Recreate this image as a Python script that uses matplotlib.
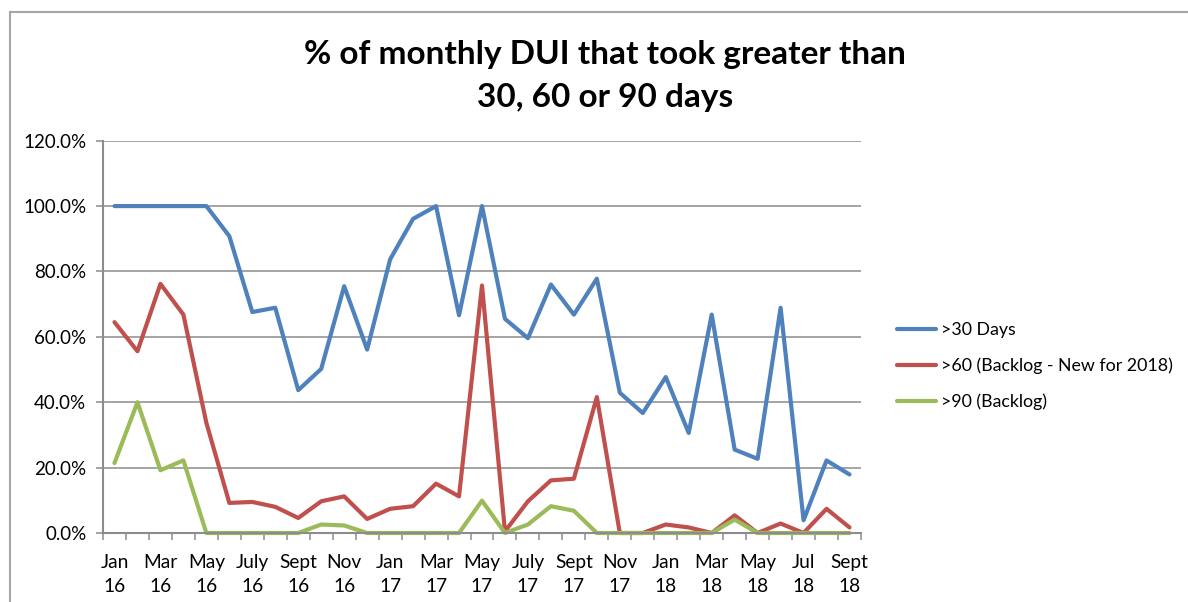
import matplotlib
matplotlib.use("Agg")
import matplotlib.pyplot as plt
from matplotlib.lines import Line2D
from matplotlib.ticker import FuncFormatter, FixedLocator

plt.rcParams['font.family'] = ['Lato', 'DejaVu Sans']

# months Jan 16 .. Sept 18
months = ['Jan 16', 'Feb 16', 'Mar 16', 'Apr 16', 'May 16', 'Jun 16', 'July 16', 'Aug 16',
          'Sept 16', 'Oct 16', 'Nov 16', 'Dec 16', 'Jan 17', 'Feb 17', 'Mar 17', 'Apr 17',
          'May 17', 'Jun 17', 'July 17', 'Aug 17', 'Sept 17', 'Oct 17', 'Nov 17', 'Dec 17',
          'Jan 18', 'Feb 18', 'Mar 18', 'Apr 18', 'May 18', 'Jun 18', 'Jul 18', 'Aug 18',
          'Sept 18']

over30 = [1.000, 1.000, 1.000, 1.000, 1.000, 0.908, 0.676, 0.689, 0.437, 0.502, 0.755,
          0.561, 0.837, 0.961, 1.000, 0.666, 1.000, 0.655, 0.596, 0.760, 0.668, 0.778,
          0.429, 0.367, 0.477, 0.306, 0.668, 0.255, 0.227, 0.689, 0.039, 0.222, 0.179]

over60 = [0.645, 0.556, 0.762, 0.668, 0.337, 0.092, 0.095, 0.080, 0.046, 0.097, 0.112,
          0.043, 0.074, 0.082, 0.151, 0.112, 0.757, 0.005, 0.097, 0.161, 0.166, 0.416,
          0.0, 0.0, 0.026, 0.017, 0.0, 0.054, 0.0, 0.029, 0.0, 0.074, 0.017]

over90 = [0.214, 0.400, 0.192, 0.222, 0.0, 0.0, 0.0, 0.0, 0.0, 0.026, 0.023,
          0.0, 0.0, 0.0, 0.0, 0.0, 0.099, 0.0, 0.026, 0.082, 0.068, 0.0,
          0.0, 0.0, 0.0, 0.0, 0.0, 0.041, 0.0, 0.0, 0.0, 0.0, 0.0]

series = [(over30, '>30 Days', '#4F81BD'),
          (over60, '>60 (Backlog - New for 2018)', '#C0504D'),
          (over90, '>90 (Backlog)', '#9BBB59')]

W, H = 1188, 602
fig = plt.figure(figsize=(W / 100, H / 100), dpi=100)
ax = fig.add_axes([103 / W, 1 - 533 / H, (861 - 103) / W, (533 - 140.7) / H])

x = list(range(len(months)))
for vals, name, col in series:
    ax.plot(x, vals, color=col, lw=3.0, label=name, clip_on=False,
            solid_joinstyle='round', solid_capstyle='round')

ax.set_xlim(-0.5, len(months) - 0.5)
ax.set_ylim(0, 1.2)
ax.set_yticks([0, 0.2, 0.4, 0.6, 0.8, 1.0, 1.2])
ax.yaxis.set_major_formatter(FuncFormatter(lambda v, p: '%.1f%%' % (v * 100)))
ax.grid(axis='y', color='#8c8c8c', lw=1.1)
ax.set_axisbelow(True)

# labels every other month, ticks on category boundaries
lab_pos = x[::2]
ax.set_xticks(lab_pos)
ax.set_xticklabels([m.replace(' ', '\n') for m in months[::2]], linespacing=1.5)
ax.xaxis.set_minor_locator(FixedLocator([i - 0.5 for i in range(len(months) + 1)]))
ax.tick_params(axis='x', which='major', length=0, pad=15, labelsize=13.8)
ax.tick_params(axis='x', which='minor', length=5, width=1.1, color='#8c8c8c', direction='out')
ax.tick_params(axis='y', length=5, width=1.1, color='#8c8c8c', pad=7, labelsize=13.5)

for s in ['top', 'right']:
    ax.spines[s].set_visible(False)
for s in ['left', 'bottom']:
    ax.spines[s].set_color('#8c8c8c')
    ax.spines[s].set_linewidth(1.5)

fig.text(605 / W, 1 - 76 / H, '% of monthly DUI that took greater than\n30, 60 or 90 days',
         ha='center', va='center', fontsize=24, fontweight='bold', linespacing=1.55)

leg = ax.legend(loc='center left', bbox_to_anchor=(881 / W, 1 - 366 / H),
                bbox_transform=fig.transFigure, frameon=False, fontsize=12.8,
                handlelength=2.2, handletextpad=0.3, labelspacing=1.08)

# chart border (cut off on the right and bottom)
fig.add_artist(Line2D([10 / W, 1.0], [1 - 12 / H, 1 - 12 / H], color='#a6a6a6', lw=1.5))
fig.add_artist(Line2D([10 / W, 10 / W], [1 - 12 / H, 0.0], color='#a6a6a6', lw=1.5))

fig.savefig('out.png', dpi=100)
